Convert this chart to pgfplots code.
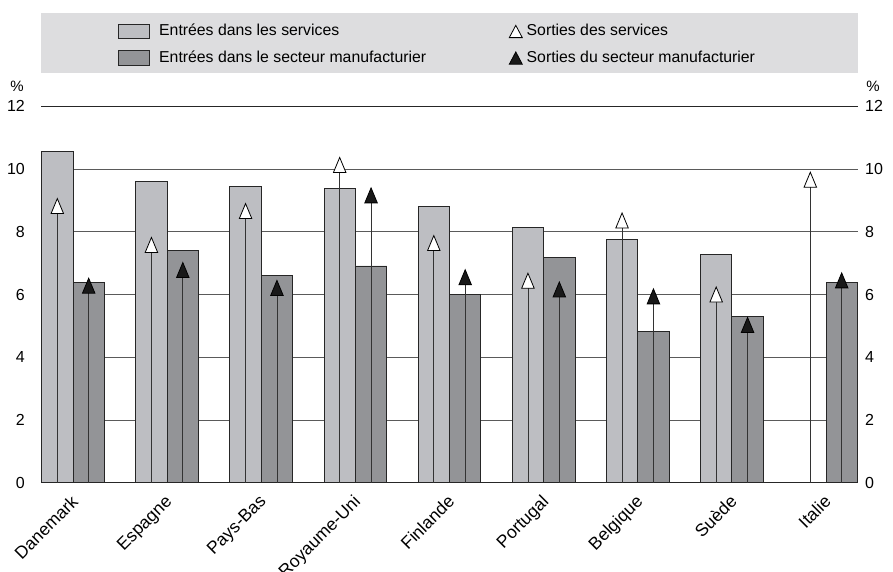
\documentclass[border=0pt]{standalone}
\usepackage{pgfplots}
\pgfplotsset{compat=1.18}
\usepackage{pgfplotstable}
\usepackage{fontspec}
\setmainfont{Liberation Sans}
\definecolor{servc}{HTML}{BDBEC2}
\definecolor{manc}{HTML}{939497}
\definecolor{legbg}{HTML}{DDDDDF}
\definecolor{gridc}{HTML}{5A5A5A}

\pgfplotstableread{
xs xm serv manu sserv smanu
-0.1667 0.1667 10.57 6.39 8.74 6.20
0.8333 1.1667 9.61 7.41 7.50 6.70
1.8333 2.1667 9.44 6.62 8.58 6.13
2.8333 3.1667 9.39 6.91 10.05 9.08
3.8333 4.1667 8.82 5.99 7.56 6.47
4.8333 5.1667 8.14 7.18 6.36 6.08
5.8333 6.1667 7.75 4.81 8.28 5.86
6.8333 7.1667 7.29 5.31 5.92 4.95
7.8333 8.1667 nan 6.39 9.58 6.37
}\datatable

\begin{document}
\begin{tikzpicture}
\useasboundingbox (0,0) rectangle (893pt,572pt);
\fill[legbg] (41pt,499.3pt) rectangle (858pt,559.3pt);
\begin{axis}[
  at={(41pt,89.3pt)}, anchor=south west,
  scale only axis, width=817pt, height=376.4pt,
  xmin=-0.34, xmax=8.34, ymin=0, ymax=12,
  clip mode=individual,
  ytick={0,2,...,12},
  xtick={0,...,8},
  xticklabels={Danemark,Espagne,Pays-Bas,Royaume-Uni,Finlande,Portugal,Belgique,Suède,Italie},
  x tick label style={font=\fontsize{17.5}{20}\selectfont, xshift=-3pt, yshift=-11pt, rotate=45, anchor=north east, inner sep=0pt},
  y tick label style={inner sep=0pt, xshift=-16pt, font=\fontsize{16}{18}\selectfont},
  /pgf/number format/assume math mode=true,
  major tick length=0pt,
  ymajorgrids, grid style={gridc, line width=0.8pt},
  separate axis lines,
  every outer x axis line/.append style={black!85, line width=1.4pt},
  every outer y axis line/.append style={draw=none},
  legend columns=2,
  legend cell align=left,
  legend style={at={(0,1)}, anchor=south west, yshift=40.6pt, draw=none, fill=none,
    inner sep=0pt, outer sep=0pt, column sep=0pt, row sep=11.4pt,
    nodes={inner sep=0pt, text height=11pt, text depth=3pt}, font=\fontsize{15.8}{18}\selectfont},
]
\addplot[ybar, bar width=0.3333, bar shift=0pt, fill=servc, draw=black!85, line width=0.9pt,
  legend image code/.code={\path (-76.7pt,0pt); \draw[fill=servc, draw=black!85, line width=0.9pt] (0pt,-7.15pt) rectangle (31.3pt,7.15pt); \path (40.6pt,0pt);}]
  table[x=xs, y=serv] {\datatable};
\addlegendentry{\makebox[340pt][l]{Entrées dans les services}}
\addplot[ycomb, black!80, line width=0.8pt, mark=triangle*, mark size=10pt,
  mark options={xscale=0.72, fill=white, draw=black, line width=0.8pt, solid},
  legend image code/.code={\path (0pt,0pt); \draw[fill=white, draw=black, line width=0.8pt] (9.7pt,-6.15pt) -- (22.7pt,-6.15pt) -- (16.2pt,6.15pt) -- cycle; \path (26.7pt,0pt);}]
  table[x=xs, y=sserv] {\datatable};
\addlegendentry{Sorties des services}
\addplot[ybar, bar width=0.3333, bar shift=0pt, fill=manc, draw=black!85, line width=0.9pt,
  legend image code/.code={\path (-76.7pt,0pt); \draw[fill=manc, draw=black!85, line width=0.9pt] (0pt,-7.15pt) rectangle (31.3pt,7.15pt); \path (40.6pt,0pt);}]
  table[x=xm, y=manu] {\datatable};
\addlegendentry{\makebox[340pt][l]{Entrées dans le secteur manufacturier}}
\addplot[ycomb, black!80, line width=0.8pt, mark=triangle*, mark size=10pt,
  mark options={xscale=0.72, fill=black!90, draw=black, line width=0.8pt, solid},
  legend image code/.code={\path (0pt,0pt); \draw[fill=black!90, draw=black, line width=0.8pt] (9.7pt,-6.15pt) -- (22.7pt,-6.15pt) -- (16.2pt,6.15pt) -- cycle; \path (26.7pt,0pt);}]
  table[x=xm, y=smanu] {\datatable};
\addlegendentry{Sorties du secteur manufacturier}
\node[font=\fontsize{15}{18}\selectfont, xshift=-24pt, yshift=20.3pt] at (rel axis cs:0,1) {\%};
\node[font=\fontsize{15}{18}\selectfont, xshift=15pt, yshift=20.3pt] at (rel axis cs:1,1) {\%};
\end{axis}
\begin{axis}[
  at={(41pt,89.3pt)}, anchor=south west,
  scale only axis, width=817pt, height=376.4pt,
  xmin=-0.34, xmax=8.34, ymin=0, ymax=12,
  ytick={0,2,...,12},
  axis y line*=right, axis x line=none,
  y axis line style={draw=none},
  major tick length=0pt,
  y tick label style={inner sep=0pt, xshift=7pt, font=\fontsize{16}{18}\selectfont},
  /pgf/number format/assume math mode=true,
]
\end{axis}
\end{tikzpicture}
\end{document}
